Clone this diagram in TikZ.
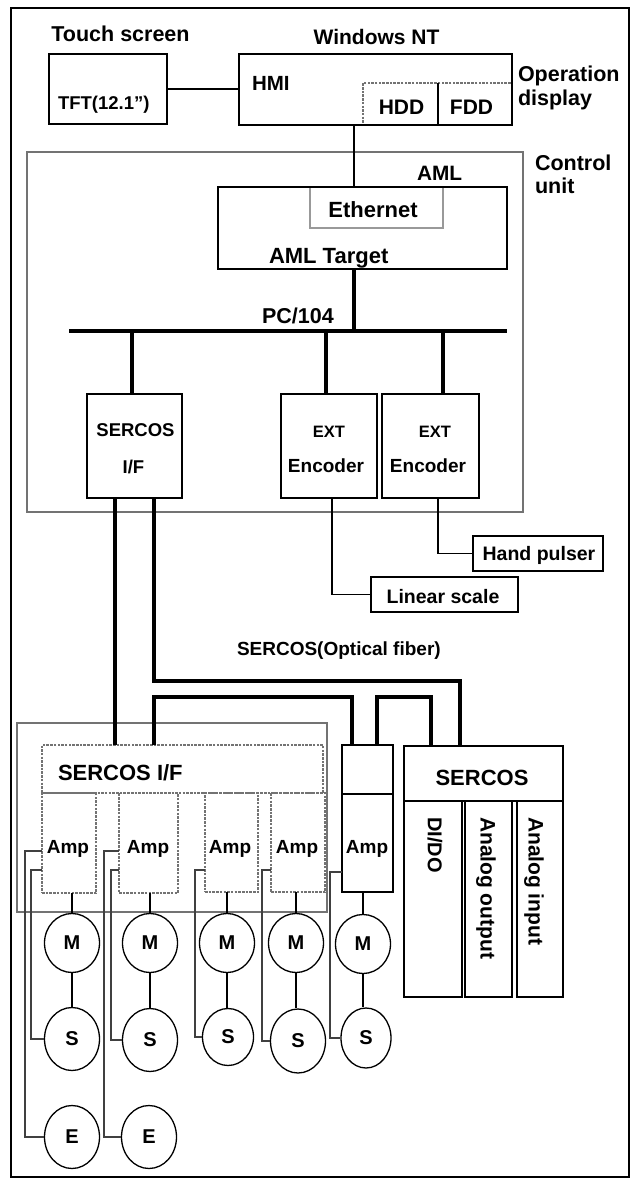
\documentclass[tikz,border=0pt]{standalone}
\usepackage{fontspec}
\setmainfont{Liberation Sans}
\usetikzlibrary{fit,shapes.geometric}
\begin{document}
\begin{tikzpicture}[x=1pt,y=-1pt,
  bx/.style={draw=black, line width=1.4pt, inner sep=0pt, outer sep=0pt},
  gbx/.style={draw=black!55, line width=1.4pt, inner sep=0pt, outer sep=0pt},
  lgbx/.style={draw=black!40, line width=1.3pt, inner sep=0pt, outer sep=0pt},
  dbx/.style={draw=black!55, line width=1.2pt, dash pattern=on 2.5pt off 1.2pt, inner sep=0pt, outer sep=0pt},
  lbl/.style={inner sep=0pt, outer sep=0pt, font=\bfseries\fontsize{#1}{#1}\selectfont},
  ln/.style={line width=1.3pt},
  sln/.style={line width=1.3pt, draw=black!75},
  fib/.style={line width=3.8pt},
  circ/.style={draw, ellipse, line width=1.3pt, inner sep=0pt, minimum width=55pt, minimum height=#1, font=\bfseries\fontsize{20}{20}\selectfont}
]
\useasboundingbox (0,0) rectangle (632,1180);
\node[draw, line width=1.6pt, inner sep=0pt, fit={(11,8)(629,1177)}] (frame) {};

% ---------- top ----------
\node[bx, fit={(49,54)(167,124)}] (tft) {};
\node[dbx, fit={(363,83)(512,125)}] (hdd) {};
\node[bx, fit={(239,54)(512,125)}] (hmi) {};
\coordinate (xd) at (438,0);
\draw[ln] (xd |- hdd.north) -- (xd |- hdd.south);

\node[lbl=21.5, anchor=base] (tTouch) at (120.5,42) {Touch screen};
\node[lbl=21, anchor=base] (tWin) at (376.5,45) {Windows NT};
\node[lbl=21.5, anchor=base west] (tOp) at (518,82) {Operation};
\node[lbl=21.5, anchor=base west] (tDisp) at (518,106) {display};
\node[lbl=20.5, anchor=base west] (tHMI) at (252,91) {HMI};
\node[lbl=18.5, anchor=base west] (tTFT) at (58,110) {TFT(12.1'')};
\node[lbl=21, anchor=base] (tHDD) at (401.5,115) {HDD};
\node[lbl=21, anchor=base] (tFDD) at (471.5,115) {FDD};

% ---------- control unit ----------
\node[gbx, fit={(27,152)(523,512)}] (cu) {};
\node[lbl=21.5, anchor=base west] (tCtl) at (535,170) {Control};
\node[lbl=21.5, anchor=base west] (tUnit) at (535,193) {unit};
\node[lbl=20.8, anchor=base west] (tAML) at (417,180) {AML};
\node[lgbx, fit={(310,187)(443,228)}] (eth) {};
\node[bx, fit={(218,187)(507,269)}] (aml) {};
\node[lbl=22, anchor=base] (tEth) at (373,217) {Ethernet};
\node[lbl=22, anchor=base west] (tAMLT) at (269,263) {AML Target};
\node[lbl=21.5, anchor=base west] (tPC) at (262,323) {PC/104};

\coordinate (busL) at (69,331);
\coordinate (busR) at (507,331);
\draw[fib] (busL) -- (busR);

\node[bx, fit={(87,394)(182,498)}] (sif) {};
\node[bx, fit={(281,394)(377,498)}] (ext1) {};
\node[bx, fit={(382,394)(479,498)}] (ext2) {};
\node[lbl=18.5, anchor=base] (tS1) at (135.5,436) {SERCOS};
\node[lbl=18.5, anchor=base] (tS2) at (133.5,473) {I/F};
\node[lbl=16.5, anchor=base] (tX1) at (329,437) {EXT};
\node[lbl=19, anchor=base] (tE1) at (326,472) {Encoder};
\node[lbl=16.5, anchor=base] (tX2) at (435,437) {EXT};
\node[lbl=19, anchor=base] (tE2) at (428,472) {Encoder};

\coordinate (xa) at (354,0);
\coordinate (xs) at (132,0);
\coordinate (xe1) at (326,0);
\coordinate (xe2) at (443,0);
\draw[ln] (tft.east) -- (tft.east -| hmi.west);
\draw[ln] (xa |- hmi.south) -- (xa |- aml.north);
\draw[fib] (xa |- aml.south) -- (xa |- busL);
\draw[fib] (xs |- busL) -- (xs |- sif.north);
\draw[fib] (xe1 |- busL) -- (xe1 |- ext1.north);
\draw[fib] (xe2 |- busL) -- (xe2 |- ext2.north);

% ---------- external encoders ----------
\node[bx, fit={(473,536)(603,571)}] (hand) {};
\node[bx, fit={(371,577)(518,612)}] (lin) {};
\node[lbl=19.5, anchor=base] (tHand) at (539,560) {Hand pulser};
\node[lbl=19.5, anchor=base] (tLin) at (443,603) {Linear scale};
\coordinate (xo1) at (332,0);
\coordinate (xo2) at (438,0);
\draw[ln] (xo1 |- ext1.south) |- (lin.west);
\draw[ln] (xo2 |- ext2.south) |- (hand.west);

\node[lbl=19, anchor=base west] (tFib) at (237,655) {SERCOS(Optical fiber)};

% ---------- drives ----------
\node[gbx, fit={(17,723)(327,912)}] (aframe) {};
\node[dbx, fit={(42,745)(323,793)}] (sifb) {};
\node[dbx, fit={(42,793)(96,893)}] (amp1) {};
\node[dbx, fit={(119,793)(178,893)}] (amp2) {};
\node[dbx, fit={(205,793)(258,892)}] (amp3) {};
\node[dbx, fit={(271,793)(325,892)}] (amp4) {};
\node[bx, fit={(342,745)(393,892)}] (amp5) {};
\coordinate (ydiv) at (0,794);
\draw[ln] (amp5.west |- ydiv) -- (amp5.east |- ydiv);
\node[lbl=22, anchor=base west] (tSIFb) at (58,780) {SERCOS I/F};
\node[lbl=19, anchor=base] (tA1) at (68,853) {Amp};
\node[lbl=19, anchor=base] (tA2) at (148,853) {Amp};
\node[lbl=19, anchor=base] (tA3) at (230,853) {Amp};
\node[lbl=19, anchor=base] (tA4) at (297,853) {Amp};
\node[lbl=19, anchor=base] (tA5) at (367,853) {Amp};

\node[bx, fit={(404,746)(563,801)}] (smod) {};
\node[bx, fit={(404,801)(462,997)}] (col1) {};
\node[bx, fit={(465,801)(512,997)}] (col2) {};
\node[bx, fit={(517,801)(563,997)}] (col3) {};
\node[lbl=22, anchor=base] (tSM) at (482,785) {SERCOS};
\node[lbl=20, rotate=-90, anchor=west] (tDIDO) at (435,817) {DI/DO};
\node[lbl=21, rotate=-90, anchor=west] (tAO) at (486,817) {Analog output};
\node[lbl=21, rotate=-90, anchor=west] (tAI) at (534,817) {Analog input};

% fibre ring
\coordinate (xf1) at (115,0);
\coordinate (xf2) at (154,0);
\coordinate (xf3) at (460,0);
\coordinate (xf4) at (352,0);
\coordinate (xf5) at (377,0);
\coordinate (xf6) at (431,0);
\coordinate (yr1) at (0,681);
\coordinate (yr2) at (0,697);
\draw[fib] (xf1 |- sif.south) -- (xf1 |- sifb.north);
\draw[fib] (xf2 |- sif.south) -- (xf2 |- yr1) -| (xf3 |- smod.north);
\draw[fib] (xf2 |- sifb.north) |- (xf4 |- yr2) -- (xf4 |- amp5.north);
\draw[fib] (xf5 |- amp5.north) |- (xf6 |- yr2) -- (xf6 |- smod.north);

% motors, sensors, encoders
\node[circ=59pt] (m1) at (72,943) {M};
\node[circ=59pt] (m2) at (150,943) {M};
\node[circ=59pt] (m3) at (227,943) {M};
\node[circ=59pt] (m4) at (296,943) {M};
\node[circ=59pt] (m5) at (363,944) {M};
\node[circ=63pt] (s1) at (72,1039) {S};
\node[circ=63pt] (s2) at (150,1040) {S};
\node[circ=57pt, minimum width=51pt] (s3) at (228,1037) {S};
\node[circ=64pt] (s4) at (298,1041) {S};
\node[circ=60pt, minimum width=50pt] (s5) at (366,1038) {S};
\node[circ=63pt] (e1) at (72,1137) {E};
\node[circ=63pt] (e2) at (149,1137) {E};

\foreach \i in {1,...,5}{
  \draw[ln] (m\i |- amp\i.south) -- (m\i.north);
  \draw[ln] (m\i.south) -- (m\i.south |- s\i.north);
}
\coordinate (ya) at (0,851);
\coordinate (yb) at (0,870);
\coordinate (yb5) at (0,872);
\draw[sln] (amp1.west |- ya) -- ++(-17,0) |- (e1.west);
\draw[sln] (amp1.west |- yb) -- ++(-11,0) |- (s1.west);
\draw[sln] (amp2.west |- ya) -- ++(-15,0) |- (e2.west);
\draw[sln] (amp2.west |- yb) -- ++(-8,0) |- (s2.west);
\draw[sln] (amp3.west |- yb) -- ++(-10,0) |- (s3.west);
\draw[sln] (amp4.west |- yb) -- ++(-9,0) |- (s4.west);
\draw[sln] (amp5.west |- yb5) -- ++(-12,0) |- (s5.west);
\end{tikzpicture}
\end{document}
